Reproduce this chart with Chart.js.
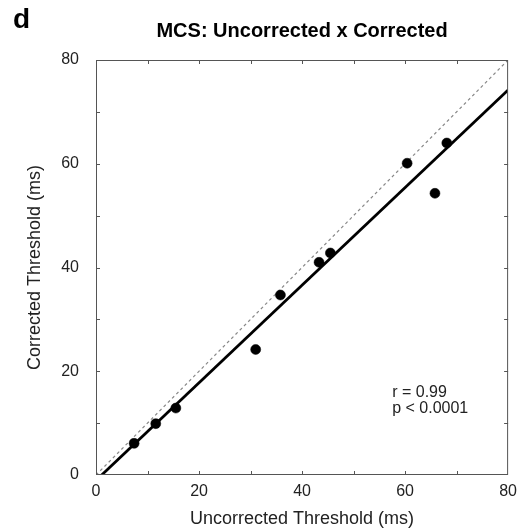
<!DOCTYPE html>
<html>
<head>
<meta charset="utf-8">
<script src="https://cdn.jsdelivr.net/npm/chart.js@4"></script>
<style>
  html, body { margin: 0; padding: 0; background: #fff; }
  canvas { display: block; }
</style>
</head>
<body>
<canvas id="c" width="524" height="531"></canvas>
<script>
// values
const UNCORRECTED = [7.4, 11.6, 15.5, 31.0, 35.8, 43.3, 45.5, 60.4, 65.8, 68.1];
const CORRECTED   = [6.1, 9.9, 12.9, 24.2, 34.7, 41.0, 42.8, 60.1, 54.3, 64.0];
const FIT_X = [1.1, 80];
const FIT_Y = [0, 74.2];
const IDENT_X = [0, 80];
const IDENT_Y = [0, 80];
const TICK_LABELS = [0, 20, 40, 60, 80];
const TICK_MARKS = [10, 20, 30, 40, 50, 60, 70];
const STATS = ['r = 0.99', 'p < 0.0001'];

const AXIS_COLOR = '#555';
const pts = (xs, ys) => xs.map((x, i) => ({ x: x, y: ys[i] }));

// box + inward ticks on all four sides, panel letter, stats text
const decor = {
  id: 'decor',
  afterDraw(chart) {
    const { ctx, chartArea: a, scales: { x, y } } = chart;
    ctx.save();
    ctx.strokeStyle = AXIS_COLOR;
    ctx.lineWidth = 1;
    ctx.strokeRect(a.left + 0.5, a.top + 0.5, a.right - a.left - 1, a.bottom - a.top - 1);
    ctx.beginPath();
    TICK_MARKS.forEach(v => {
      const px = Math.round(x.getPixelForValue(v)) + 0.5;
      ctx.moveTo(px, a.bottom); ctx.lineTo(px, a.bottom - 4);
      ctx.moveTo(px, a.top); ctx.lineTo(px, a.top + 4);
      const py = Math.round(y.getPixelForValue(v)) + 0.5;
      ctx.moveTo(a.left, py); ctx.lineTo(a.left + 4, py);
      ctx.moveTo(a.right, py); ctx.lineTo(a.right - 4, py);
    });
    ctx.stroke();

    ctx.fillStyle = '#000';
    ctx.font = 'bold 28px "Liberation Sans", Arial, sans-serif';
    ctx.textBaseline = 'alphabetic';
    ctx.fillText('d', 13, 28);

    ctx.fillStyle = '#222';
    ctx.font = '16px "Liberation Sans", Arial, sans-serif';
    const sx = x.getPixelForValue(57.5);
    const sy = y.getPixelForValue(15);
    STATS.forEach((t, i) => ctx.fillText(t, sx, sy + i * 15.5));
    ctx.restore();
  }
};

Chart.defaults.font.family = '"Liberation Sans", Arial, sans-serif';
Chart.defaults.color = '#222';

new Chart(document.getElementById('c'), {
  type: 'scatter',
  data: {
    datasets: [
      {
        data: pts(UNCORRECTED, CORRECTED),
        backgroundColor: '#000',
        borderColor: '#000',
        borderWidth: 0.5,
        pointRadius: 5,
        order: 0
      },
      {
        type: 'line',
        data: pts(FIT_X, FIT_Y),
        borderColor: '#000',
        borderWidth: 2.8,
        pointRadius: 0,
        fill: false,
        order: 1
      },
      {
        type: 'line',
        data: pts(IDENT_X, IDENT_Y),
        borderColor: '#888',
        borderWidth: 1.2,
        borderDash: [3, 3],
        pointRadius: 0,
        fill: false,
        order: 2
      }
    ]
  },
  options: {
    responsive: false,
    animation: false,
    devicePixelRatio: 1,
    layout: { padding: { left: 0, right: 15, top: 0, bottom: 0 } },
    plugins: {
      legend: { display: false },
      tooltip: { enabled: false },
      title: {
        display: true,
        text: 'MCS: Uncorrected x Corrected',
        fullSize: false,
        color: '#000',
        font: { size: 20, weight: 'bold' },
        padding: { top: 19, bottom: 17 }
      }
    },
    scales: {
      x: {
        type: 'linear',
        min: 0, max: 80,
        afterFit: s => { s.height = 56; },
        afterBuildTicks: s => { s.ticks = TICK_LABELS.map(v => ({ value: v })); },
        grid: { display: false, drawTicks: false },
        border: { display: false },
        ticks: { font: { size: 16 }, padding: 7, maxRotation: 0 },
        title: {
          display: true,
          text: 'Uncorrected Threshold (ms)',
          font: { size: 18 },
          padding: { top: 0, bottom: 1 }
        }
      },
      y: {
        type: 'linear',
        min: 0, max: 80,
        afterFit: s => { s.width = 96; },
        afterBuildTicks: s => { s.ticks = TICK_LABELS.map(v => ({ value: v })); },
        grid: { display: false, drawTicks: false },
        border: { display: false },
        ticks: { font: { size: 16 }, padding: 17 },
        title: {
          display: true,
          text: 'Corrected Threshold (ms)',
          font: { size: 18 },
          padding: { top: 24, bottom: 0 }
        }
      }
    }
  },
  plugins: [decor]
});
</script>
</body>
</html>
